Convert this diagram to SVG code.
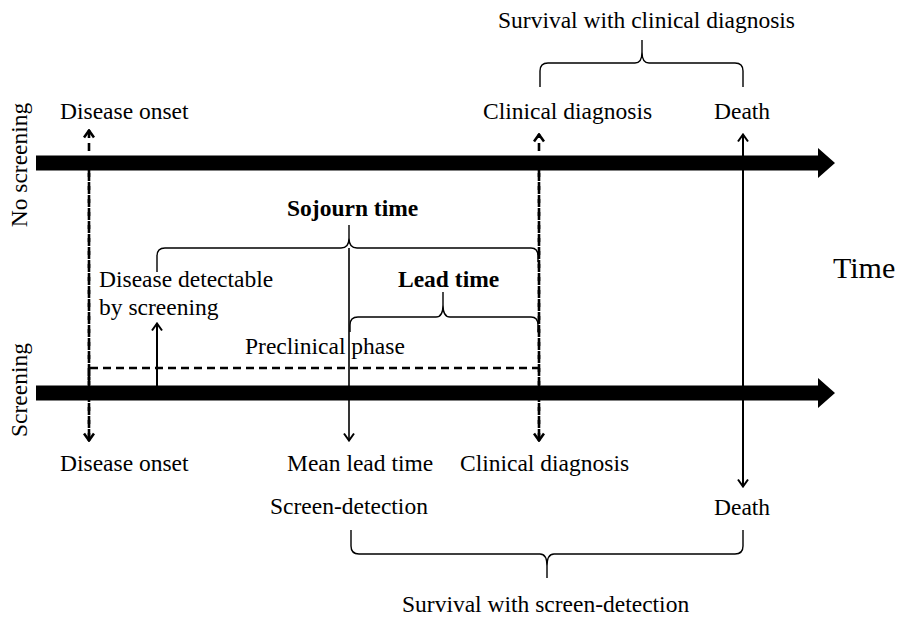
<svg xmlns="http://www.w3.org/2000/svg" width="904" height="617" viewBox="0 0 904 617">
<style>
text{font-family:"Liberation Serif","Times New Roman",serif;font-size:23.5px;fill:#000}
.b{font-weight:bold}
.thin{stroke:#000;stroke-width:2;fill:none}
.dash{stroke:#000;stroke-width:2.6;fill:none;stroke-dasharray:8,5}
.brace{stroke:#000;stroke-width:1.4;fill:none}
</style>
<defs>
<marker id="ah" viewBox="0 0 10 12" refX="9" refY="6" markerWidth="10" markerHeight="12" markerUnits="userSpaceOnUse" orient="auto-start-reverse">
<path d="M1.5,1 L8.5,6 L1.5,11" fill="none" stroke="#000" stroke-width="2.6"/>
</marker>
<marker id="ahs" viewBox="0 0 10 12" refX="9" refY="6" markerWidth="10" markerHeight="12" markerUnits="userSpaceOnUse" orient="auto-start-reverse">
<path d="M1.5,1 L8.5,6 L1.5,11" fill="none" stroke="#000" stroke-width="2"/>
</marker>
</defs>
<g id="timeline-no-screening">
<polygon points="36,155.5 818,155.5 818,148 835,163 818,178 818,170.5 36,170.5" fill="#000"/>
</g>
<g id="timeline-screening">
<polygon points="36,385.5 818,385.5 818,378 835,393 818,408 818,400.5 36,400.5" fill="#000"/>
</g>
<g id="connectors">
<line class="dash" x1="89" y1="437" x2="89" y2="130" marker-end="url(#ah)"/>
<line class="dash" x1="89" y1="160" x2="89" y2="441" marker-end="url(#ah)"/>
<line class="dash" x1="539" y1="437" x2="539" y2="134" marker-end="url(#ah)"/>
<line class="dash" x1="539" y1="160" x2="539" y2="441" marker-end="url(#ah)"/>
<polyline class="dash" points="89,380 89,368 539,368"/>
<line class="thin" x1="743" y1="134" x2="743" y2="487" marker-start="url(#ahs)" marker-end="url(#ahs)"/>
<line class="thin" x1="349" y1="248" x2="349" y2="441" marker-end="url(#ahs)" style="stroke-width:1.6"/>
<line class="thin" x1="157" y1="386" x2="157" y2="323" marker-end="url(#ahs)"/>
</g>
<g id="braces">
<path class="brace" d="M157,272 L157,256 Q157,248 165,248 L341,248 Q349,248 349,238 L349,225 L349,238 Q349,248 357,248 L531,248 Q538,248 538,256 L538,262"/>
<path class="brace" d="M350,332 L350,325 Q350,317 358,317 L436,317 Q443,317 443,305 L443,292 L443,305 Q443,317 450,317 L531,317 Q538,317 538,325 L538,332"/>
<path class="brace" d="M540,87 L540,71 Q540,63 548,63 L635,63 Q642,63 642,52 L642,40 L642,52 Q642,63 649,63 L735,63 Q743,63 743,71 L743,87"/>
<path class="brace" d="M351,530 L351,546 Q351,554 359,554 L540,554 Q547,554 547,566 L547,578 L547,566 Q547,554 554,554 L735,554 Q743,554 743,546 L743,530"/>
</g>
<g id="labels">
<text x="498" y="28">Survival with clinical diagnosis</text>
<text x="60" y="119">Disease onset</text>
<text x="483" y="119">Clinical diagnosis</text>
<text x="714" y="119">Death</text>
<text transform="translate(27,165) rotate(-90)" text-anchor="middle">No screening</text>
<text transform="translate(27,390) rotate(-90)" text-anchor="middle">Screening</text>
<text class="b" x="287" y="216">Sojourn time</text>
<text x="99" y="287">Disease detectable</text>
<text x="99" y="315">by screening</text>
<text class="b" x="398" y="287">Lead time</text>
<text x="245" y="354">Preclinical phase</text>
<text x="833" y="278" style="font-size:30px">Time</text>
<text x="60" y="471">Disease onset</text>
<text x="287" y="471">Mean lead time</text>
<text x="460" y="471">Clinical diagnosis</text>
<text x="270" y="514">Screen-detection</text>
<text x="714" y="515">Death</text>
<text x="402" y="612">Survival with screen-detection</text>
</g>
</svg>
